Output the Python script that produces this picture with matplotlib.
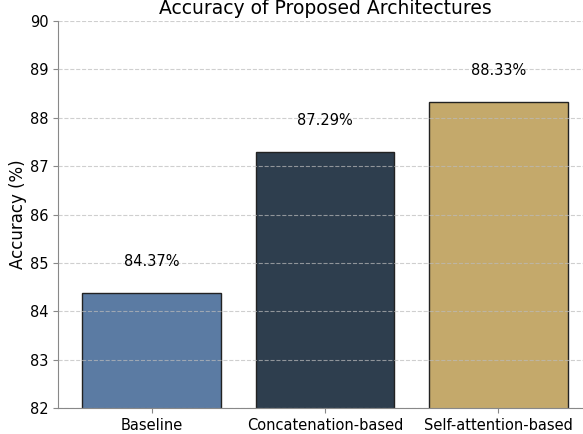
import matplotlib
matplotlib.use("Agg")
from matplotlib import pyplot as plt

architectures = ["Baseline", "Concatenation-based", "Self-attention-based"]
accuracy = [84.37, 87.29, 88.33]
colors = ["#5b7ba3", "#2e3e4e", "#c4a96b"]

fig = plt.figure(figsize=(5.83, 4.34), dpi=100)
ax = fig.add_axes([58 / 583, 26 / 434, 534 / 583, 387 / 434])

bars = ax.bar(architectures, accuracy, color=colors, edgecolor="#222222",
              linewidth=1.0, width=0.8)
for b, v in zip(bars, accuracy):
    ax.text(b.get_x() + b.get_width() / 2, v + 0.5, f"{v:.2f}%",
            ha="center", va="bottom", fontsize=10.5)

ax.set_ylim(82, 90)
ax.set_title("Accuracy of Proposed Architectures", fontsize=13.5, pad=5)
ax.set_ylabel("Accuracy (%)", fontsize=12, labelpad=2)
ax.tick_params(axis="both", labelsize=10.5, colors="#888888", labelcolor="black")
ax.yaxis.grid(True, linestyle="--", color="#bbbbbb", alpha=0.7, linewidth=0.8)
ax.set_axisbelow(False)
for side in ["top", "right"]:
    ax.spines[side].set_visible(False)
for side in ["left", "bottom"]:
    ax.spines[side].set_color("#888888")

fig.savefig("out.png", dpi=100)
